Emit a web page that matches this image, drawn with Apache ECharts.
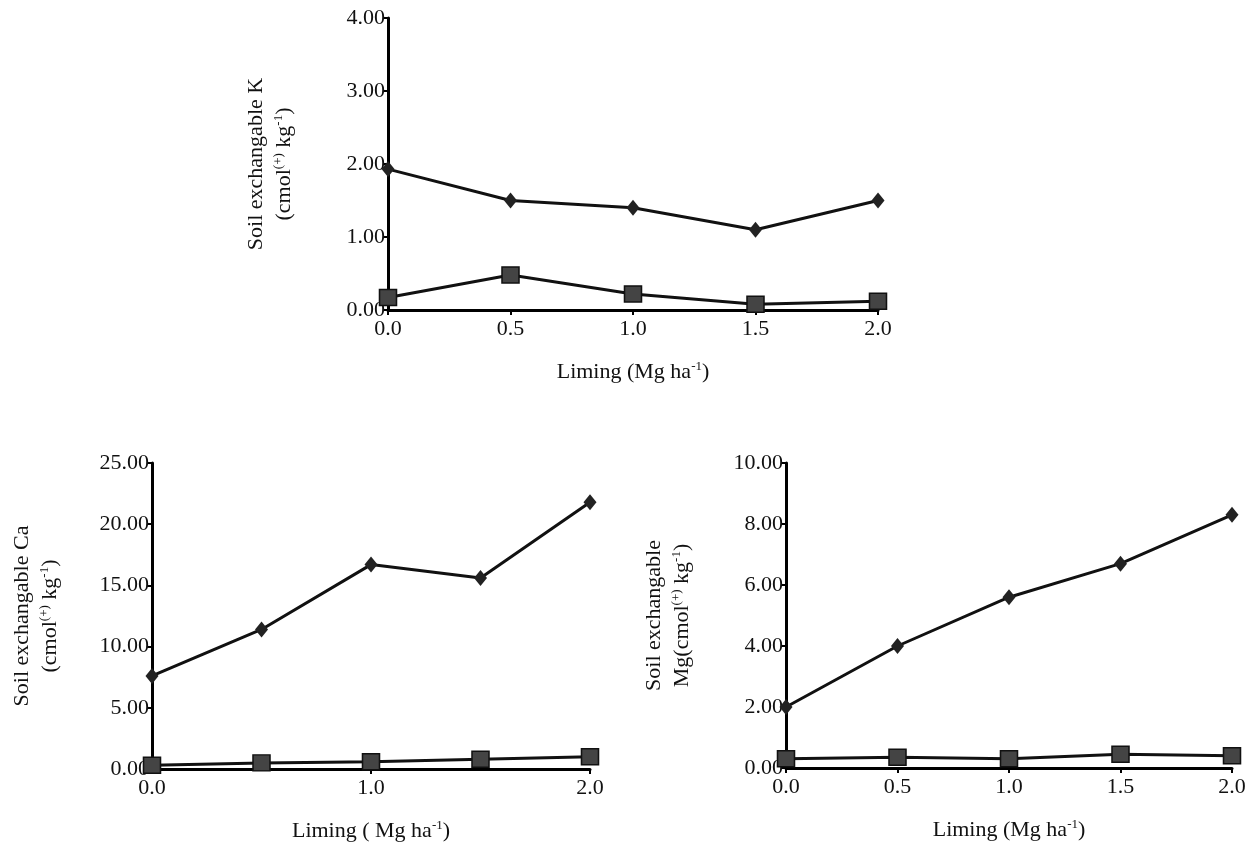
<!DOCTYPE html><html><head><meta charset="utf-8"><script src="https://cdn.jsdelivr.net/npm/echarts@6/dist/echarts.min.js"></script></head><body style="margin:0;background:#fff"><div id="c" style="width:1253px;height:846px"></div><script>
const xK=[0,0.5,1,1.5,2];
const kDiamond=[1.93,1.5,1.4,1.1,1.5];
const kSquare=[0.17,0.48,0.22,0.08,0.12];
const caDiamond=[7.6,11.4,16.7,15.6,21.8];
const caSquare=[0.3,0.5,0.6,0.8,1.0];
const mgDiamond=[2.0,4.0,5.6,6.7,8.3];
const mgSquare=[0.3,0.35,0.3,0.45,0.4];
const F='Liberation Serif';
const rich={a:{fontFamily:F,fontSize:22,color:'#111',lineHeight:28},s:{fontFamily:F,fontSize:13,color:'#111',padding:[0,0,11,0]}};
const ax={lineStyle:{color:'#000',width:3}};
function grid(l,t,w,h){return {left:l,top:t,width:w,height:h,outerBoundsMode:'none',containLabel:false};}
function xa(i,interval,xname){return {type:'value',gridIndex:i,min:0,max:2,interval:interval,axisLine:ax,axisTick:{show:true,length:5,lineStyle:{color:'#000',width:2}},splitLine:{show:false},axisLabel:{fontFamily:F,fontSize:22,color:'#111',formatter:v=>v.toFixed(1),margin:8},name:xname,nameLocation:'middle',nameGap:48,nameTextStyle:{rich:rich}};}
function ya(i,max,interval,name,gap){return {type:'value',gridIndex:i,min:0,max:max,interval:interval,axisLine:{show:true,lineStyle:{color:'#000',width:3}},axisTick:{show:true,length:5,lineStyle:{color:'#000',width:2}},splitLine:{show:false},axisLabel:{fontFamily:F,fontSize:22,color:'#111',formatter:v=>v.toFixed(2),margin:3},name:name,nameLocation:'middle',nameRotate:90,nameGap:gap,nameTextStyle:{rich:rich,align:'center'}};}
const xname='{a|Liming (Mg ha}{s|-1}{a|)}';
function ser(i,d,sq){return {type:'line',xAxisIndex:i,yAxisIndex:i,data:xK.map((x,j)=>[x,d[j]]),symbol:sq?'rect':'diamond',symbolSize:sq?[17,16]:[13,16],lineStyle:{color:'#111',width:3},itemStyle:{color:sq?'#444':'#222',borderColor:'#111',borderWidth:sq?1.5:0},z:sq?3:2};}
const opt={animation:false,
grid:[grid(388,18,490,292),grid(152,463,438,306),grid(786,463,446,305)],
xAxis:[xa(0,0.5,xname),xa(1,1,'{a|Liming ( Mg ha}{s|-1}{a|)}'),xa(2,0.5,xname)],
yAxis:[ya(0,4,1,'{a|Soil exchangable K}\n{a|(cmol}{s|(+)}{a| kg}{s|-1}{a|)}',90),
ya(1,25,5,'{a|Soil exchangable Ca}\n{a|(cmol}{s|(+)}{a| kg}{s|-1}{a|)}',88),
ya(2,10,2,'{a|Soil exchangable}\n{a|Mg(cmol}{s|(+)}{a| kg}{s|-1}{a|)}',90)],
series:[ser(0,kDiamond,false),ser(0,kSquare,true),ser(1,caDiamond,false),ser(1,caSquare,true),ser(2,mgDiamond,false),ser(2,mgSquare,true)]};
echarts.init(document.getElementById('c')).setOption(opt);
</script></body></html>
